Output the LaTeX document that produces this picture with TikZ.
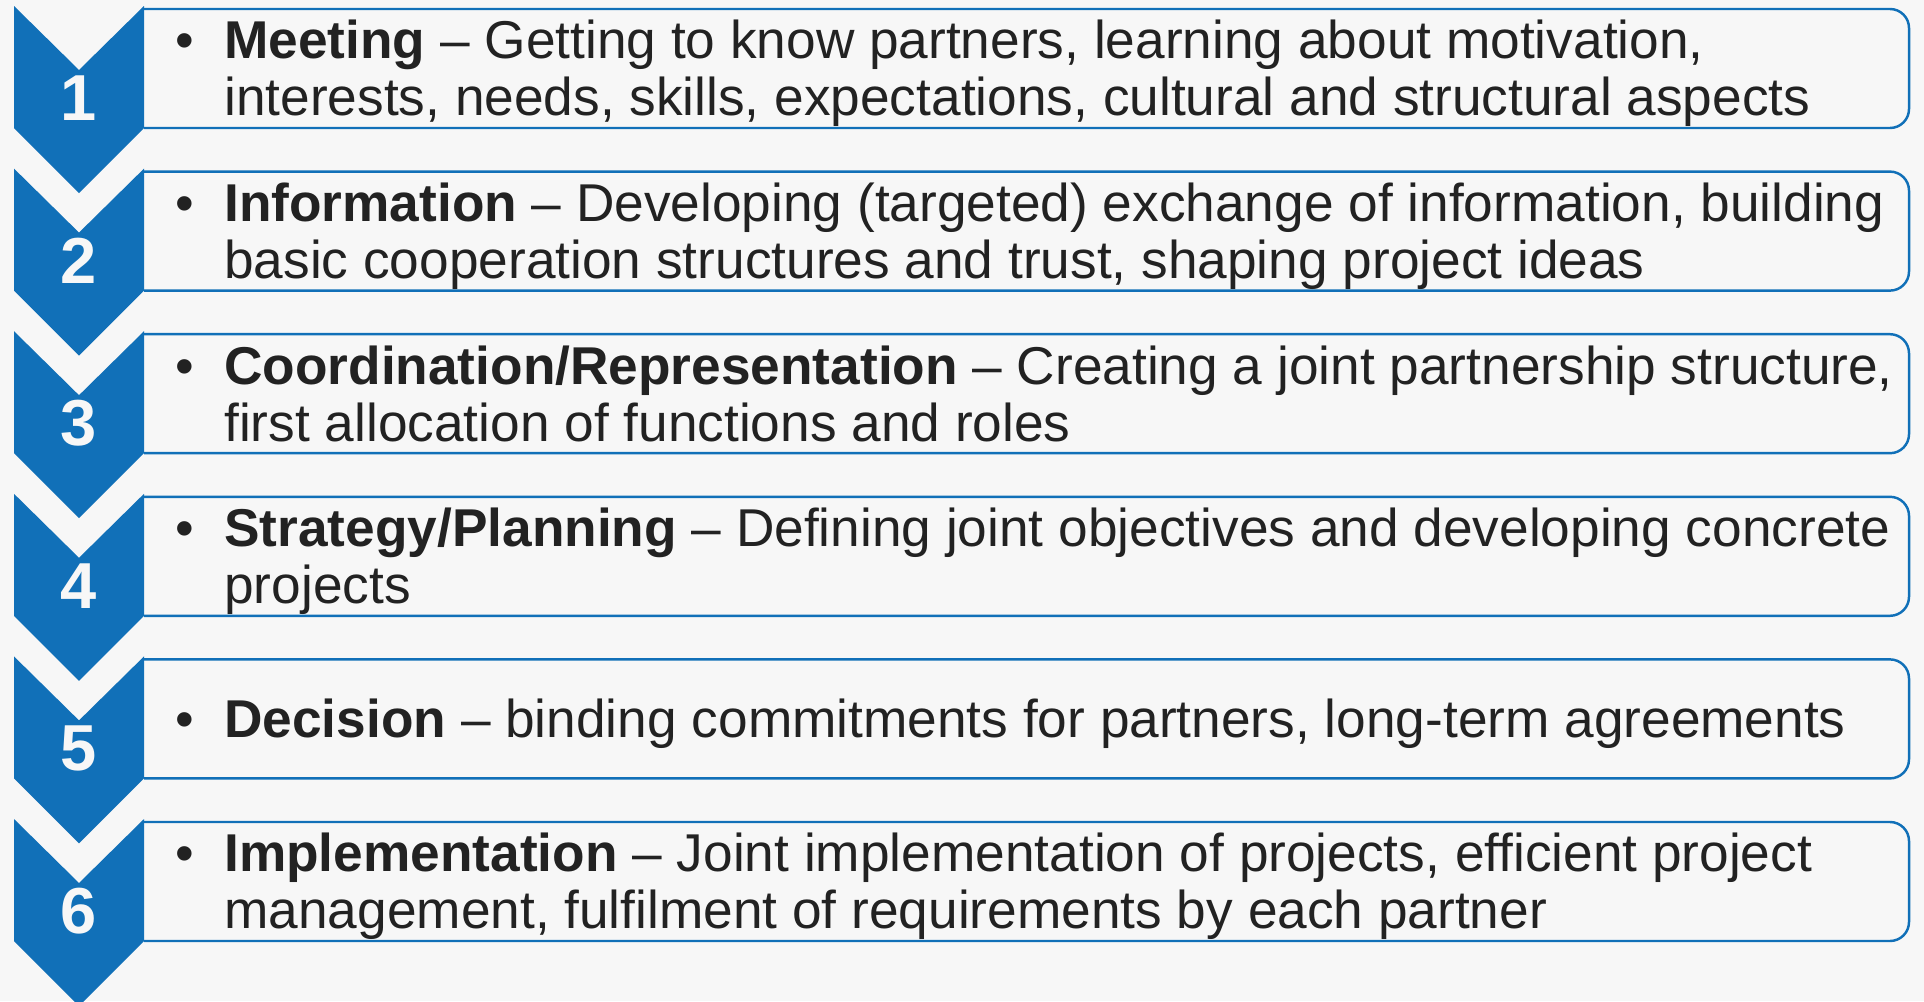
\documentclass[tikz,border=0pt]{standalone}
\usepackage{fontspec}
\setmainfont{Liberation Sans}
\usepackage{array}
\definecolor{stepblue}{HTML}{1170B8}
\definecolor{pagebg}{HTML}{F7F7F7}
\definecolor{inkgray}{HTML}{222222}

\tikzset{
  chevron/.style={fill=stepblue},
  frame/.style={draw=stepblue, line width=1.4pt, rounded corners=0.38cm},
  num/.style={text=pagebg, font=\fontsize{37}{37}\selectfont\bfseries, inner sep=0pt},
  item/.style={anchor=west, inner sep=0pt, text=inkgray,
    font=\fontsize{30.3}{32.4}\selectfont}
}

\begin{document}
\begin{tikzpicture}[x=0.02cm, y=-0.02cm]
    \fill[pagebg] (0,0) rectangle (1924,1001);
    \useasboundingbox (0,0) rectangle (1924,1001);
    \clip (0,0) rectangle (1924,1001);
    \foreach \i/\head/\rest in {
        1/{Meeting}/{Getting to know partners, learning about motivation,\\ & interests, needs, skills, expectations, cultural and structural aspects},
        2/{Information}/{Developing (targeted) exchange of information, building\\ & basic cooperation structures and trust, shaping project ideas},
        3/{Coordination/Representation}/{Creating a joint partnership structure,\\ & first allocation of functions and roles},
        4/{Strategy/Planning}/{Defining joint objectives and developing concrete\\ & projects},
        5/{Decision}/{binding commitments for partners, long-term agreements},
        6/{Implementation}/{Joint implementation of projects, efficient project\\ & management, fulfilment of requirements by each partner}}
    {
        \pgfmathsetmacro\t{6+(\i-1)*162.6}
        % box round the text, open on the left
        \draw[frame] (144,\t+3) -- (1909,\t+3) -- (1909,\t+122) -- (144,\t+122);
        % chevron with the step number
        \fill[chevron] (14,\t) -- (79,\t+64) -- (144,\t) -- (144,\t+122)
            -- (79,\t+187) -- (14,\t+122) -- cycle;
        \node[num] (num\i) at (79,\t+92) {\i};
        \node[item] (text\i) at (175,\t+70)
        {{%
            \begin{tabular}{@{}p{0.98cm}@{}l@{}}
            • & \textbf{\head} – \rest
            \end{tabular}%
        }};
    }
\end{tikzpicture}
\end{document}
